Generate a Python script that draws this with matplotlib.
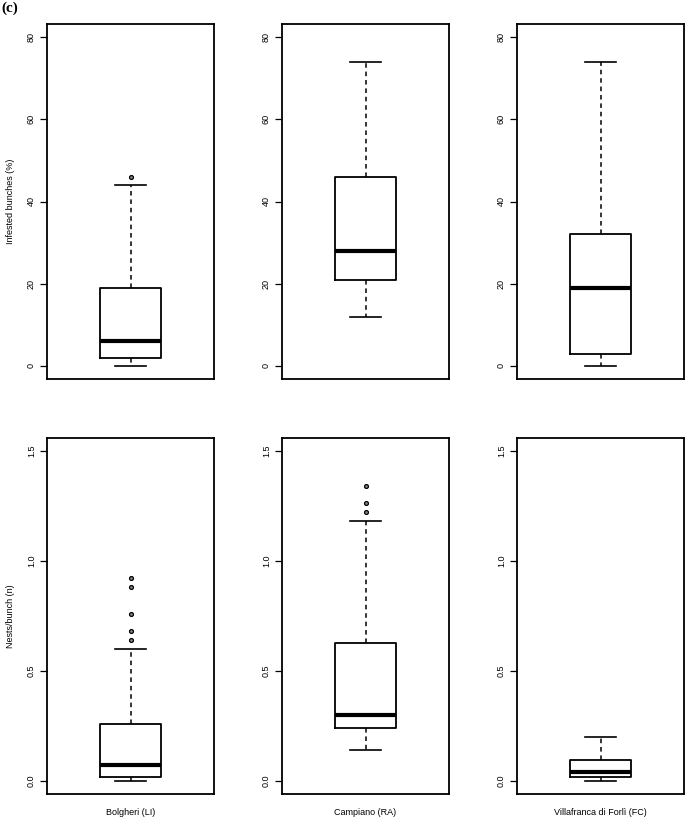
import matplotlib
matplotlib.use("Agg")
import matplotlib.pyplot as plt

# sites (x labels under bottom row)
sites = ["Bolgheri (LI)", "Campiano (RA)", "Villafranca di Forlì (FC)"]

# Infested bunches (%) - box stats per site
inf_low = [0, 12, 0]
inf_q1 = [2, 21, 3]
inf_med = [6, 28, 19]
inf_q3 = [19, 46, 32]
inf_high = [44, 74, 74]
inf_out = [[46], [], []]

# Nests/bunch (n) - box stats per site
nest_low = [0.0, 0.14, 0.0]
nest_q1 = [0.018, 0.239, 0.018]
nest_med = [0.073, 0.30, 0.040]
nest_q3 = [0.26, 0.629, 0.096]
nest_high = [0.60, 1.182, 0.198]
nest_out = [[0.641, 0.681, 0.761, 0.880, 0.921], [1.221, 1.262, 1.340], []]

inf_ticks = [0, 20, 40, 60, 80]
nest_ticks = [0.0, 0.5, 1.0, 1.5]

plt.rcParams['font.family'] = ['Liberation Sans', 'DejaVu Sans']

fig = plt.figure(figsize=(6.85, 8.18), dpi=100)

lefts = [47 / 685, 282 / 685, 517 / 685]
width = 167 / 685
rows = [(1 - 379 / 818, 355 / 818), (1 - 794 / 818, 356 / 818)]


def draw_box(ax, low, q1, med, q3, high, out):
    stats = [{"whislo": low, "q1": q1, "med": med, "q3": q3,
              "whishi": high, "fliers": out}]
    ax.bxp(stats, positions=[1], widths=0.4, showfliers=True,
           boxprops=dict(color="black", linewidth=1.3),
           medianprops=dict(color="black", linewidth=3.0, solid_capstyle="butt"),
           whiskerprops=dict(color="black", linewidth=1.1, linestyle=(0, (3, 2.5))),
           capprops=dict(color="black", linewidth=1.2),
           capwidths=0.2,
           flierprops=dict(marker="o", markersize=2.8, markerfacecolor="#888888",
                           markeredgecolor="black", markeredgewidth=0.9))


for r, (bottom, height) in enumerate(rows):
    for c in range(3):
        ax = fig.add_axes([lefts[c], bottom, width, height])
        if r == 0:
            draw_box(ax, inf_low[c], inf_q1[c], inf_med[c], inf_q3[c],
                     inf_high[c], inf_out[c])
            ax.set_ylim(-3.2, 83.2)
            ax.set_yticks(inf_ticks)
            ax.set_yticklabels([str(t) for t in inf_ticks])
            if c == 0:
                ax.set_ylabel("Infested bunches (%)", fontsize=6.5)
        else:
            draw_box(ax, nest_low[c], nest_q1[c], nest_med[c], nest_q3[c],
                     nest_high[c], nest_out[c])
            ax.set_ylim(-0.06, 1.56)
            ax.set_yticks(nest_ticks)
            ax.set_yticklabels(["%.1f" % t for t in nest_ticks])
            if c == 0:
                ax.set_ylabel("Nests/bunch (n)", fontsize=6.5)
            ax.text(0.5, -0.04, sites[c], transform=ax.transAxes,
                    ha="center", va="top", fontsize=6.5)
        if c == 0:
            ax.yaxis.set_label_coords(-0.218, 0.5)
            ax.yaxis.label.set_va("center")
        ax.set_xlim(0.46, 1.54)
        ax.set_xticks([])
        ax.tick_params(axis="y", length=5, width=0.9, pad=3, labelsize=6.5)
        for lab in ax.get_yticklabels():
            lab.set_rotation(90)
            lab.set_va("center")
        for sp in ax.spines.values():
            sp.set_linewidth(1.3)

fig.text(0.002, 0.998, "(c)", ha="left", va="top", fontsize=11,
         fontweight="bold", family="Liberation Serif")

fig.savefig("out.png", dpi=100)
